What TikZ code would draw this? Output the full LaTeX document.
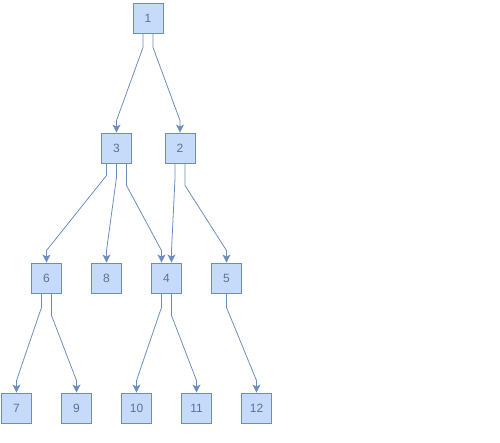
\documentclass[tikz,border=0pt]{standalone}
\usepackage{fontspec}
\setmainfont{Liberation Sans}
\usetikzlibrary{arrows.meta}
\definecolor{boxfill}{HTML}{C6DBFA}
\definecolor{boxline}{HTML}{6C8EBF}
\definecolor{boxtext}{HTML}{5B70A0}
\tikzset{
  box/.style={draw=boxline,fill=boxfill,text=boxtext,line width=0.9pt,
    minimum size=30pt,inner sep=0pt,font=\fontsize{12}{14}\selectfont},
  edge/.style={draw=boxline,line width=0.8pt,-{Stealth[length=8pt,width=8pt,inset=2pt]}}
}
\begin{document}
\begin{tikzpicture}[x=1pt,y=-1pt]
  \useasboundingbox (0,0) rectangle (500,443);
  % tree levels
  \node[box] (n1) at (148,18) {1};
  \node[box] (n3) at (116.5,148) {3};
  \node[box] (n2) at (180,148) {2};
  \node[box] (n6) at (46.5,278) {6};
  \node[box] (n8) at (106.5,278) {8};
  \node[box] (n4) at (166.5,278) {4};
  \node[box] (n5) at (226.5,278) {5};
  \node[box] (n7) at (16.5,408) {7};
  \node[box] (n9) at (76.5,408) {9};
  \node[box] (n10) at (136.5,408) {10};
  \node[box] (n11) at (196.5,408) {11};
  \node[box] (n12) at (256.5,408) {12};
  % connectors: source/offset/target/offset/stub
  \foreach \s/\so/\t/\to/\st in {n1/-5/n3/0/14, n1/5/n2/0/14,
      n3/-10/n6/0/12, n3/0/n8/0/14, n3/10/n4/-5/22,
      n2/-5/n4/5/15, n2/5/n5/0/22,
      n6/-5/n7/0/14, n6/5/n9/0/22, n4/-5/n10/0/14, n4/5/n11/0/22, n5/0/n12/0/14}
    { \draw[edge] ([xshift=\so pt]\s.south) -- ++(0,\st)
        -- ([xshift=\to pt,yshift=12pt]\t.north) -- ([xshift=\to pt]\t.north); }
\end{tikzpicture}
\end{document}
